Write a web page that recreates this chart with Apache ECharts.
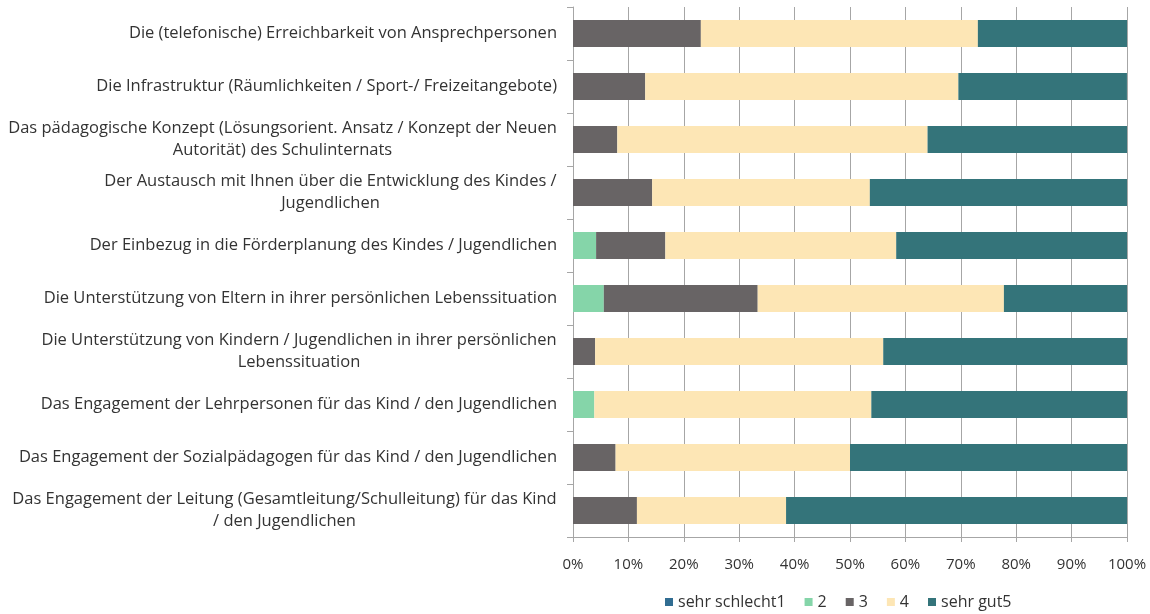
<!DOCTYPE html>
<html>
<head>
<meta charset="utf-8">
<script src="https://cdn.jsdelivr.net/npm/echarts@6/dist/echarts.min.js"></script>
<style>html,body{margin:0;padding:0;background:#fff}#c{width:1150px;height:614px}</style>
</head>
<body>
<div id="c"></div>
<script>
const categories = [
  "Die (telefonische) Erreichbarkeit von Ansprechpersonen",
  "Die Infrastruktur (Räumlichkeiten / Sport-/ Freizeitangebote)",
  "Das pädagogische Konzept (Lösungsorient. Ansatz / Konzept der Neuen\nAutorität) des Schulinternats",
  "Der Austausch mit Ihnen über die Entwicklung des Kindes /\nJugendlichen",
  "Der Einbezug in die Förderplanung des Kindes / Jugendlichen",
  "Die Unterstützung von Eltern in ihrer persönlichen Lebenssituation",
  "Die Unterstützung von Kindern / Jugendlichen in ihrer persönlichen\nLebenssituation",
  "Das Engagement der Lehrpersonen für das Kind / den Jugendlichen",
  "Das Engagement der Sozialpädagogen für das Kind / den Jugendlichen",
  "Das Engagement der Leitung (Gesamtleitung/Schulleitung) für das Kind\n/ den Jugendlichen"
];
const seriesNames = ["sehr schlecht1", "2", "3", "4", "sehr gut5"];
const v1 = [0, 0, 0, 0, 0, 0, 0, 0, 0, 0];
const v2 = [0, 0, 0, 0, 4.17, 5.56, 0, 3.85, 0, 0];
const v3 = [23.08, 13.04, 8.0, 14.29, 12.5, 27.78, 4.0, 0, 7.69, 11.54];
const v4 = [50.0, 56.52, 56.0, 39.29, 41.67, 44.44, 52.0, 50.0, 42.31, 26.92];
const v5 = [26.92, 30.43, 36.0, 46.43, 41.67, 22.22, 44.0, 46.15, 50.0, 61.54];
const xTicks = [0, 10, 20, 30, 40, 50, 60, 70, 80, 90, 100];
const colors = ["#316d92", "#85d5a9", "#686465", "#fde6b5", "#34747a"];

const values = [v1, v2, v3, v4, v5];
const font = "Open Sans";
const yFontSize = 16.5;
const ctx = document.createElement('canvas').getContext('2d');
function measure(t) { return Math.ceil(ctx.measureText(t).width); }

const chart = echarts.init(document.getElementById('c'), null, {renderer: 'canvas'});
function render() {
  ctx.font = yFontSize + 'px "' + font + '"';
  const rich = {};
  categories.forEach(c => {
    const lines = c.split('\n');
    if (lines.length > 1) {
      const w = Math.max.apply(null, lines.map(measure));
      rich['c' + w] = {width: w, align: 'center', fontFamily: font, fontSize: yFontSize, lineHeight: 22, color: '#333333'};
    }
  });
  chart.setOption({
    animation: false,
    color: colors,
    grid: {left: 573, right: 23, top: 7, bottom: 77, containLabel: false},
    xAxis: {
      type: 'value', min: xTicks[0], max: xTicks[xTicks.length - 1], interval: 10,
      axisLine: {show: true, lineStyle: {color: '#a6a6a6', width: 1}},
      axisTick: {show: true, length: 5, lineStyle: {color: '#a6a6a6'}},
      splitLine: {show: true, lineStyle: {color: '#a6a6a6', width: 1}},
      axisLabel: {formatter: '{value}%', color: '#333333', fontFamily: font, fontSize: 15, margin: 20}
    },
    yAxis: {
      type: 'category', data: categories, inverse: true,
      axisLine: {show: true, lineStyle: {color: '#a6a6a6'}},
      axisTick: {show: true, length: 6, lineStyle: {color: '#a6a6a6'}},
      axisLabel: {
        color: '#333333', fontFamily: font, fontSize: yFontSize, lineHeight: 22, margin: 16, align: 'right',
        formatter: function (value) {
          const lines = value.split('\n');
          if (lines.length === 1) return value;
          const w = Math.max.apply(null, lines.map(measure));
          return lines.map(l => '{c' + w + '|' + l + '}').join('\n');
        },
        rich: rich
      }
    },
    legend: {
      data: seriesNames, left: 660, top: 589, icon: 'rect', itemWidth: 8, itemHeight: 8, itemGap: 19, itemTextGap: 7,
      textStyle: {color: '#333333', fontFamily: font, fontSize: 16}
    },
    series: seriesNames.map((n, i) => ({
      name: n, type: 'bar', stack: 'total', data: values[i], barCategoryGap: '49%',
      itemStyle: {color: colors[i]}
    }))
  });
}
if (document.fonts && document.fonts.load) {
  document.fonts.load(yFontSize + 'px "' + font + '"').then(render, render);
} else { render(); }
</script>
</body>
</html>
